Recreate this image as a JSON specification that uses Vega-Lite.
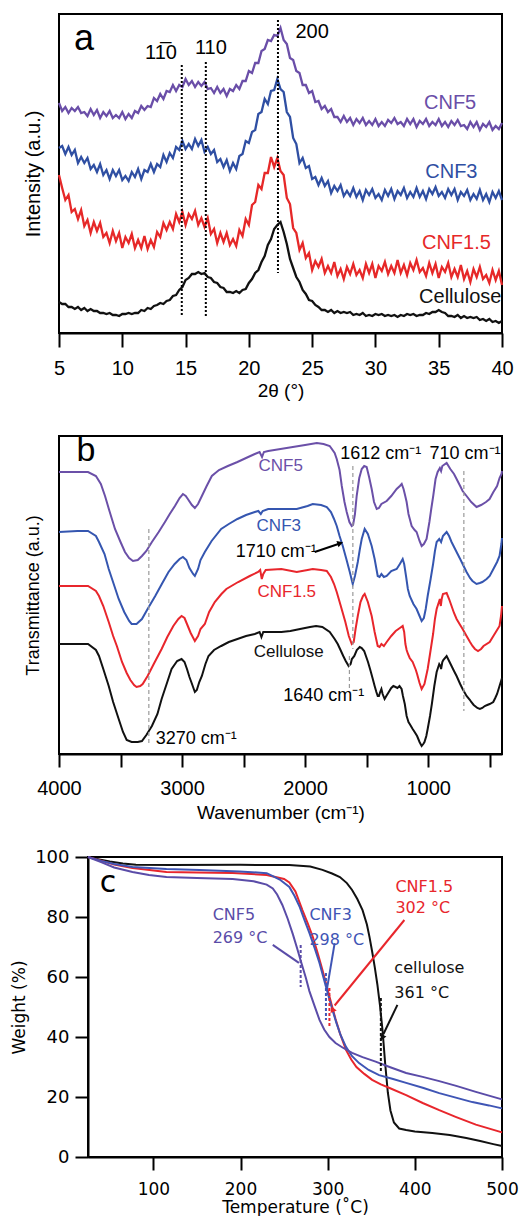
{
  "$schema": "https://vega.github.io/schema/vega-lite/v6.json",
  "background": "white",
  "padding": {"left": 9, "top": 13, "right": 0, "bottom": 0},
  "spacing": 103,
  "bounds": "flush",
  "resolve": {"scale": {"color": "independent"}},
  "config": {
    "view": {"stroke": "black", "strokeWidth": 2},
    "axis": {"grid": false, "domainColor": "black", "domainWidth": 2, "tickColor": "black", "tickWidth": 2, "labelColor": "black", "titleColor": "black", "titleFontWeight": "normal", "labelFontWeight": "normal", "labelFlush": false, "labelOverlap": false},
    "text": {"font": "Liberation Sans"}
  },
  "datasets": {
    "xrd": [
      {"t":5,"p":230,"b":185,"r":158,"k":31},{"t":5.25,"p":222,"b":187,"r":145,"k":29},{"t":5.5,"p":226,"b":179,"r":133,"k":29},{"t":5.75,"p":220,"b":186,"r":138,"k":26},
      {"t":6,"p":225,"b":178,"r":121,"k":26},{"t":6.25,"p":222,"b":183,"r":124,"k":24},{"t":6.5,"p":226,"b":170,"r":114,"k":26},{"t":6.75,"p":220,"b":176,"r":123,"k":23},
      {"t":7,"p":221,"b":170,"r":107,"k":25},{"t":7.25,"p":217,"b":175,"r":113,"k":22},{"t":7.5,"p":224,"b":164,"r":100,"k":24},{"t":7.75,"p":218,"b":168,"r":111,"k":22},
      {"t":8,"p":223,"b":161,"r":102,"k":22},{"t":8.25,"p":215,"b":169,"r":110,"k":20},{"t":8.5,"p":221,"b":158,"r":96,"k":20},{"t":8.75,"p":217,"b":163,"r":100,"k":19},
      {"t":9,"p":222,"b":154,"r":90,"k":20},{"t":9.25,"p":215,"b":163,"r":102,"k":18},{"t":9.5,"p":218,"b":157,"r":92,"k":18},{"t":9.75,"p":215,"b":163,"r":100,"k":17},
      {"t":10,"p":221,"b":153,"r":85,"k":19},{"t":10.25,"p":214,"b":157,"r":96,"k":19},{"t":10.5,"p":219,"b":152,"r":90,"k":20},{"t":10.75,"p":215,"b":161,"r":99,"k":19},
      {"t":11,"p":222,"b":156,"r":85,"k":20},{"t":11.25,"p":220,"b":164,"r":93,"k":20},{"t":11.5,"p":227,"b":154,"r":85,"k":23},{"t":11.75,"p":223,"b":163,"r":97,"k":22},
      {"t":12,"p":227,"b":161,"r":84,"k":25},{"t":12.25,"p":226,"b":169,"r":93,"k":24},{"t":12.5,"p":235,"b":161,"r":86,"k":27},{"t":12.75,"p":232,"b":169,"r":101,"k":28},
      {"t":13,"p":239,"b":166,"r":96,"k":30},{"t":13.25,"p":234,"b":178,"r":110,"k":29},{"t":13.5,"p":242,"b":171,"r":103,"k":32},{"t":13.75,"p":241,"b":180,"r":111,"k":33},
      {"t":14,"p":248,"b":175,"r":104,"k":37},{"t":14.25,"p":242,"b":186,"r":119,"k":38},{"t":14.5,"p":248,"b":183,"r":111,"k":43},{"t":14.75,"p":246,"b":192,"r":121,"k":46},
      {"t":15,"p":254,"b":184,"r":108,"k":53},{"t":15.25,"p":248,"b":189,"r":119,"k":55},{"t":15.5,"p":252,"b":184,"r":114,"k":59},{"t":15.75,"p":246,"b":194,"r":122,"k":59},
      {"t":16,"p":251,"b":187,"r":108,"k":61},{"t":16.25,"p":247,"b":193,"r":115,"k":59},{"t":16.5,"p":251,"b":181,"r":106,"k":60},{"t":16.75,"p":244,"b":186,"r":115,"k":56},
      {"t":17,"p":245,"b":179,"r":99,"k":55},{"t":17.25,"p":240,"b":183,"r":104,"k":51},{"t":17.5,"p":246,"b":171,"r":90,"k":50},{"t":17.75,"p":240,"b":174,"r":100,"k":46},
      {"t":18,"p":244,"b":166,"r":91,"k":45},{"t":18.25,"p":237,"b":173,"r":100,"k":41},{"t":18.5,"p":244,"b":162,"r":88,"k":41},{"t":18.75,"p":242,"b":170,"r":94,"k":40},
      {"t":19,"p":248,"b":164,"r":87,"k":42},{"t":19.25,"p":244,"b":177,"r":103,"k":40},{"t":19.5,"p":252,"b":179,"r":97,"k":43},{"t":19.75,"p":252,"b":192,"r":114,"k":44},
      {"t":20,"p":262,"b":190,"r":108,"k":50},{"t":20.25,"p":260,"b":201,"r":128,"k":54},{"t":20.5,"p":270,"b":203,"r":131,"k":60},{"t":20.75,"p":270,"b":219,"r":148,"k":63},
      {"t":21,"p":282,"b":221,"r":144,"k":71},{"t":21.25,"p":284,"b":234,"r":160,"k":77},{"t":21.5,"p":293,"b":229,"r":160,"k":88},{"t":21.75,"p":292,"b":242,"r":176,"k":94},
      {"t":22,"p":298,"b":243,"r":166,"k":104},{"t":22.25,"p":297,"b":254,"r":175,"k":108},{"t":22.5,"p":305,"b":244,"r":162,"k":111},{"t":22.75,"p":293,"b":241,"r":158,"k":101},
      {"t":23,"p":289,"b":221,"r":135,"k":89},{"t":23.25,"p":275,"b":216,"r":129,"k":74},{"t":23.5,"p":273,"b":195,"r":105,"k":65},{"t":23.75,"p":262,"b":189,"r":100,"k":56},
      {"t":24,"p":260,"b":170,"r":83,"k":51},{"t":24.25,"p":248,"b":175,"r":90,"k":43},{"t":24.5,"p":248,"b":165,"r":75,"k":39},{"t":24.75,"p":240,"b":167,"r":80,"k":33},
      {"t":25,"p":242,"b":154,"r":63,"k":32},{"t":25.25,"p":231,"b":156,"r":72,"k":28},{"t":25.5,"p":232,"b":148,"r":66,"k":26},{"t":25.75,"p":224,"b":155,"r":74,"k":23},
      {"t":26,"p":227,"b":147,"r":60,"k":23},{"t":26.25,"p":221,"b":152,"r":67,"k":21},{"t":26.5,"p":224,"b":140,"r":60,"k":23},{"t":26.75,"p":216,"b":147,"r":71,"k":20},
      {"t":27,"p":216,"b":142,"r":57,"k":22},{"t":27.25,"p":211,"b":148,"r":64,"k":20},{"t":27.5,"p":217,"b":137,"r":54,"k":21},{"t":27.75,"p":211,"b":142,"r":66,"k":20},
      {"t":28,"p":215,"b":137,"r":59,"k":21},{"t":28.25,"p":208,"b":145,"r":69,"k":18},{"t":28.5,"p":214,"b":136,"r":58,"k":19},{"t":28.75,"p":210,"b":142,"r":63,"k":18},
      {"t":29,"p":215,"b":133,"r":55,"k":20},{"t":29.25,"p":208,"b":143,"r":69,"k":17},{"t":29.5,"p":212,"b":138,"r":60,"k":18},{"t":29.75,"p":208,"b":144,"r":69,"k":17},
      {"t":30,"p":214,"b":135,"r":55,"k":19},{"t":30.25,"p":207,"b":139,"r":67,"k":18},{"t":30.5,"p":211,"b":133,"r":62,"k":19},{"t":30.75,"p":207,"b":143,"r":71,"k":17},
      {"t":31,"p":213,"b":137,"r":59,"k":18},{"t":31.25,"p":210,"b":144,"r":67,"k":17},{"t":31.5,"p":215,"b":134,"r":60,"k":18},{"t":31.75,"p":209,"b":142,"r":73,"k":16},
      {"t":32,"p":211,"b":138,"r":60,"k":18},{"t":32.25,"p":207,"b":145,"r":68,"k":17},{"t":32.5,"p":214,"b":135,"r":58,"k":19},{"t":32.75,"p":209,"b":141,"r":70,"k":18},
      {"t":33,"p":214,"b":136,"r":63,"k":19},{"t":33.25,"p":206,"b":145,"r":73,"k":17},{"t":33.5,"p":212,"b":136,"r":61,"k":18},{"t":33.75,"p":209,"b":142,"r":65,"k":18},
      {"t":34,"p":214,"b":134,"r":57,"k":20},{"t":34.25,"p":207,"b":144,"r":70,"k":19},{"t":34.5,"p":211,"b":139,"r":60,"k":21},{"t":34.75,"p":208,"b":146,"r":69,"k":21},
      {"t":35,"p":214,"b":137,"r":55,"k":23},{"t":35.25,"p":207,"b":141,"r":66,"k":21},{"t":35.5,"p":211,"b":135,"r":61,"k":20},{"t":35.75,"p":206,"b":144,"r":70,"k":17},
      {"t":36,"p":212,"b":138,"r":56,"k":17},{"t":36.25,"p":208,"b":144,"r":64,"k":16},{"t":36.5,"p":213,"b":133,"r":56,"k":18},{"t":36.75,"p":207,"b":141,"r":68,"k":15},
      {"t":37,"p":208,"b":137,"r":54,"k":17},{"t":37.25,"p":204,"b":143,"r":62,"k":15},{"t":37.5,"p":211,"b":133,"r":51,"k":16},{"t":37.75,"p":206,"b":139,"r":64,"k":15},
      {"t":38,"p":211,"b":134,"r":56,"k":16},{"t":38.25,"p":203,"b":143,"r":66,"k":13},{"t":38.5,"p":209,"b":133,"r":54,"k":14},{"t":38.75,"p":206,"b":139,"r":58,"k":12},
      {"t":39,"p":211,"b":131,"r":50,"k":14},{"t":39.25,"p":203,"b":141,"r":63,"k":11},{"t":39.5,"p":207,"b":135,"r":53,"k":12},{"t":39.75,"p":204,"b":142,"r":62,"k":10},
      {"t":40,"p":210,"b":133,"r":48,"k":12}
    ],
    "ftir": [
      {"s":"p","w":4000,"v":282},{"s":"p","w":3850,"v":282},{"s":"p","w":3764,"v":282},{"s":"p","w":3700,"v":278},{"s":"p","w":3660,"v":270},{"s":"p","w":3626,"v":258},{"s":"p","w":3590,"v":243},{"s":"p","w":3545,"v":225},{"s":"p","w":3500,"v":212},{"s":"p","w":3464,"v":202},{"s":"p","w":3430,"v":196},{"s":"p","w":3399,"v":193},{"s":"p","w":3360,"v":194},{"s":"p","w":3326,"v":198},{"s":"p","w":3290,"v":203},{"s":"p","w":3245,"v":212},{"s":"p","w":3190,"v":222},{"s":"p","w":3139,"v":232},{"s":"p","w":3100,"v":240},{"s":"p","w":3058,"v":248},{"s":"p","w":3020,"v":256},{"s":"p","w":2993,"v":260},{"s":"p","w":2970,"v":258},{"s":"p","w":2953,"v":255},{"s":"p","w":2920,"v":249},{"s":"p","w":2896,"v":246},{"s":"p","w":2870,"v":250},{"s":"p","w":2839,"v":258},{"s":"p","w":2800,"v":268},{"s":"p","w":2758,"v":278},{"s":"p","w":2700,"v":284},{"s":"p","w":2628,"v":288},{"s":"p","w":2550,"v":292},{"s":"p","w":2480,"v":296},{"s":"p","w":2409,"v":300},{"s":"p","w":2370,"v":302},{"s":"p","w":2350,"v":297},{"s":"p","w":2335,"v":302},{"s":"p","w":2300,"v":303},{"s":"p","w":2200,"v":305},{"s":"p","w":2100,"v":307},{"s":"p","w":2000,"v":309},{"s":"p","w":1905,"v":311},{"s":"p","w":1850,"v":310},{"s":"p","w":1800,"v":308},{"s":"p","w":1760,"v":301},{"s":"p","w":1743,"v":295},{"s":"p","w":1720,"v":284},{"s":"p","w":1702,"v":268},{"s":"p","w":1680,"v":252},{"s":"p","w":1662,"v":242},{"s":"p","w":1640,"v":232},{"s":"p","w":1621,"v":228},{"s":"p","w":1610,"v":229},{"s":"p","w":1595,"v":240},{"s":"p","w":1581,"v":258},{"s":"p","w":1560,"v":276},{"s":"p","w":1540,"v":285},{"s":"p","w":1520,"v":288},{"s":"p","w":1500,"v":287},{"s":"p","w":1480,"v":277},{"s":"p","w":1459,"v":265},{"s":"p","w":1440,"v":252},{"s":"p","w":1418,"v":245},{"s":"p","w":1400,"v":246},{"s":"p","w":1380,"v":250},{"s":"p","w":1337,"v":253},{"s":"p","w":1300,"v":258},{"s":"p","w":1256,"v":265},{"s":"p","w":1230,"v":268},{"s":"p","w":1215,"v":270},{"s":"p","w":1200,"v":265},{"s":"p","w":1190,"v":260},{"s":"p","w":1175,"v":252},{"s":"p","w":1160,"v":240},{"s":"p","w":1134,"v":228},{"s":"p","w":1110,"v":224},{"s":"p","w":1094,"v":222},{"s":"p","w":1070,"v":213},{"s":"p","w":1053,"v":208},{"s":"p","w":1035,"v":210},{"s":"p","w":1013,"v":215},{"s":"p","w":990,"v":232},{"s":"p","w":975,"v":245},{"s":"p","w":959,"v":258},{"s":"p","w":940,"v":275},{"s":"p","w":923,"v":282},{"s":"p","w":905,"v":286},{"s":"p","w":895,"v":283},{"s":"p","w":885,"v":288},{"s":"p","w":850,"v":291},{"s":"p","w":820,"v":285},{"s":"p","w":790,"v":280},{"s":"p","w":769,"v":275},{"s":"p","w":740,"v":268},{"s":"p","w":720,"v":263},{"s":"p","w":688,"v":258},{"s":"p","w":650,"v":252},{"s":"p","w":607,"v":247},{"s":"p","w":570,"v":249},{"s":"p","w":530,"v":252},{"s":"p","w":501,"v":255},{"s":"p","w":470,"v":262},{"s":"p","w":440,"v":268},{"s":"p","w":420,"v":276},{"s":"p","w":404,"v":280},{"s":"p","w":400,"v":283},
      {"s":"b","w":4000,"v":222},{"s":"b","w":3850,"v":223},{"s":"b","w":3764,"v":223},{"s":"b","w":3700,"v":218},{"s":"b","w":3675,"v":212},{"s":"b","w":3630,"v":200},{"s":"b","w":3596,"v":185},{"s":"b","w":3550,"v":168},{"s":"b","w":3515,"v":155},{"s":"b","w":3470,"v":142},{"s":"b","w":3430,"v":133},{"s":"b","w":3410,"v":130},{"s":"b","w":3370,"v":130},{"s":"b","w":3326,"v":135},{"s":"b","w":3280,"v":145},{"s":"b","w":3218,"v":158},{"s":"b","w":3160,"v":171},{"s":"b","w":3110,"v":182},{"s":"b","w":3060,"v":190},{"s":"b","w":3020,"v":195},{"s":"b","w":2993,"v":197},{"s":"b","w":2965,"v":194},{"s":"b","w":2940,"v":186},{"s":"b","w":2910,"v":180},{"s":"b","w":2896,"v":178},{"s":"b","w":2870,"v":185},{"s":"b","w":2850,"v":194},{"s":"b","w":2815,"v":202},{"s":"b","w":2760,"v":213},{"s":"b","w":2682,"v":225},{"s":"b","w":2620,"v":230},{"s":"b","w":2550,"v":235},{"s":"b","w":2480,"v":239},{"s":"b","w":2409,"v":242},{"s":"b","w":2380,"v":243},{"s":"b","w":2360,"v":240},{"s":"b","w":2345,"v":243},{"s":"b","w":2300,"v":245},{"s":"b","w":2164,"v":245},{"s":"b","w":2068,"v":245},{"s":"b","w":1980,"v":248},{"s":"b","w":1938,"v":250},{"s":"b","w":1870,"v":249},{"s":"b","w":1824,"v":247},{"s":"b","w":1790,"v":242},{"s":"b","w":1765,"v":235},{"s":"b","w":1743,"v":228},{"s":"b","w":1720,"v":218},{"s":"b","w":1694,"v":208},{"s":"b","w":1665,"v":195},{"s":"b","w":1637,"v":182},{"s":"b","w":1613,"v":170},{"s":"b","w":1595,"v":178},{"s":"b","w":1572,"v":192},{"s":"b","w":1555,"v":205},{"s":"b","w":1540,"v":215},{"s":"b","w":1516,"v":225},{"s":"b","w":1490,"v":220},{"s":"b","w":1459,"v":208},{"s":"b","w":1435,"v":195},{"s":"b","w":1410,"v":178},{"s":"b","w":1395,"v":177},{"s":"b","w":1380,"v":180},{"s":"b","w":1360,"v":177},{"s":"b","w":1337,"v":178},{"s":"b","w":1300,"v":183},{"s":"b","w":1256,"v":185},{"s":"b","w":1230,"v":190},{"s":"b","w":1207,"v":195},{"s":"b","w":1195,"v":190},{"s":"b","w":1180,"v":178},{"s":"b","w":1165,"v":165},{"s":"b","w":1150,"v":158},{"s":"b","w":1120,"v":150},{"s":"b","w":1094,"v":145},{"s":"b","w":1070,"v":138},{"s":"b","w":1053,"v":133},{"s":"b","w":1035,"v":136},{"s":"b","w":1020,"v":145},{"s":"b","w":1004,"v":158},{"s":"b","w":980,"v":175},{"s":"b","w":960,"v":190},{"s":"b","w":945,"v":203},{"s":"b","w":931,"v":212},{"s":"b","w":910,"v":215},{"s":"b","w":895,"v":212},{"s":"b","w":880,"v":218},{"s":"b","w":850,"v":222},{"s":"b","w":830,"v":218},{"s":"b","w":810,"v":212},{"s":"b","w":769,"v":202},{"s":"b","w":740,"v":195},{"s":"b","w":720,"v":190},{"s":"b","w":688,"v":182},{"s":"b","w":660,"v":176},{"s":"b","w":640,"v":173},{"s":"b","w":607,"v":170},{"s":"b","w":580,"v":171},{"s":"b","w":560,"v":172},{"s":"b","w":525,"v":175},{"s":"b","w":500,"v":178},{"s":"b","w":470,"v":185},{"s":"b","w":440,"v":192},{"s":"b","w":420,"v":198},{"s":"b","w":405,"v":210},{"s":"b","w":400,"v":216},
      {"s":"r","w":4000,"v":168},{"s":"r","w":3850,"v":168},{"s":"r","w":3764,"v":168},{"s":"r","w":3700,"v":163},{"s":"r","w":3675,"v":158},{"s":"r","w":3640,"v":148},{"s":"r","w":3596,"v":132},{"s":"r","w":3560,"v":118},{"s":"r","w":3530,"v":108},{"s":"r","w":3488,"v":92},{"s":"r","w":3450,"v":81},{"s":"r","w":3420,"v":74},{"s":"r","w":3390,"v":69},{"s":"r","w":3370,"v":67},{"s":"r","w":3340,"v":68},{"s":"r","w":3320,"v":70},{"s":"r","w":3280,"v":78},{"s":"r","w":3230,"v":90},{"s":"r","w":3166,"v":105},{"s":"r","w":3120,"v":117},{"s":"r","w":3071,"v":128},{"s":"r","w":3030,"v":135},{"s":"r","w":3004,"v":138},{"s":"r","w":2980,"v":136},{"s":"r","w":2960,"v":130},{"s":"r","w":2930,"v":121},{"s":"r","w":2896,"v":113},{"s":"r","w":2870,"v":118},{"s":"r","w":2850,"v":125},{"s":"r","w":2815,"v":130},{"s":"r","w":2780,"v":142},{"s":"r","w":2734,"v":152},{"s":"r","w":2680,"v":160},{"s":"r","w":2640,"v":165},{"s":"r","w":2544,"v":172},{"s":"r","w":2450,"v":178},{"s":"r","w":2382,"v":182},{"s":"r","w":2365,"v":184},{"s":"r","w":2352,"v":175},{"s":"r","w":2340,"v":180},{"s":"r","w":2320,"v":184},{"s":"r","w":2193,"v":185},{"s":"r","w":2068,"v":182},{"s":"r","w":1980,"v":184},{"s":"r","w":1938,"v":185},{"s":"r","w":1870,"v":184},{"s":"r","w":1824,"v":183},{"s":"r","w":1790,"v":177},{"s":"r","w":1765,"v":170},{"s":"r","w":1743,"v":162},{"s":"r","w":1710,"v":148},{"s":"r","w":1673,"v":132},{"s":"r","w":1645,"v":118},{"s":"r","w":1621,"v":110},{"s":"r","w":1605,"v":112},{"s":"r","w":1590,"v":125},{"s":"r","w":1572,"v":138},{"s":"r","w":1550,"v":152},{"s":"r","w":1530,"v":158},{"s":"r","w":1516,"v":160},{"s":"r","w":1490,"v":152},{"s":"r","w":1459,"v":138},{"s":"r","w":1435,"v":122},{"s":"r","w":1410,"v":108},{"s":"r","w":1395,"v":107},{"s":"r","w":1380,"v":110},{"s":"r","w":1360,"v":108},{"s":"r","w":1337,"v":112},{"s":"r","w":1300,"v":118},{"s":"r","w":1264,"v":123},{"s":"r","w":1230,"v":126},{"s":"r","w":1207,"v":128},{"s":"r","w":1195,"v":122},{"s":"r","w":1185,"v":110},{"s":"r","w":1175,"v":104},{"s":"r","w":1164,"v":100},{"s":"r","w":1150,"v":96},{"s":"r","w":1126,"v":92},{"s":"r","w":1100,"v":84},{"s":"r","w":1090,"v":80},{"s":"r","w":1070,"v":71},{"s":"r","w":1053,"v":65},{"s":"r","w":1030,"v":70},{"s":"r","w":1004,"v":85},{"s":"r","w":985,"v":100},{"s":"r","w":960,"v":120},{"s":"r","w":945,"v":135},{"s":"r","w":931,"v":145},{"s":"r","w":905,"v":155},{"s":"r","w":897,"v":148},{"s":"r","w":890,"v":155},{"s":"r","w":880,"v":160},{"s":"r","w":850,"v":161},{"s":"r","w":830,"v":155},{"s":"r","w":810,"v":148},{"s":"r","w":790,"v":141},{"s":"r","w":769,"v":135},{"s":"r","w":740,"v":129},{"s":"r","w":720,"v":125},{"s":"r","w":688,"v":118},{"s":"r","w":660,"v":112},{"s":"r","w":640,"v":108},{"s":"r","w":620,"v":105},{"s":"r","w":595,"v":103},{"s":"r","w":570,"v":105},{"s":"r","w":550,"v":108},{"s":"r","w":500,"v":112},{"s":"r","w":470,"v":118},{"s":"r","w":450,"v":122},{"s":"r","w":420,"v":128},{"s":"r","w":408,"v":138},{"s":"r","w":400,"v":148},
      {"s":"k","w":4000,"v":110},{"s":"k","w":3850,"v":110},{"s":"k","w":3764,"v":110},{"s":"k","w":3700,"v":104},{"s":"k","w":3675,"v":98},{"s":"k","w":3640,"v":85},{"s":"k","w":3596,"v":68},{"s":"k","w":3560,"v":52},{"s":"k","w":3515,"v":35},{"s":"k","w":3480,"v":22},{"s":"k","w":3450,"v":14},{"s":"k","w":3410,"v":12},{"s":"k","w":3360,"v":12},{"s":"k","w":3326,"v":13},{"s":"k","w":3290,"v":19},{"s":"k","w":3245,"v":28},{"s":"k","w":3200,"v":40},{"s":"k","w":3166,"v":55},{"s":"k","w":3120,"v":72},{"s":"k","w":3085,"v":85},{"s":"k","w":3040,"v":93},{"s":"k","w":3004,"v":95},{"s":"k","w":2980,"v":92},{"s":"k","w":2960,"v":85},{"s":"k","w":2940,"v":77},{"s":"k","w":2925,"v":72},{"s":"k","w":2896,"v":62},{"s":"k","w":2880,"v":64},{"s":"k","w":2860,"v":72},{"s":"k","w":2839,"v":78},{"s":"k","w":2810,"v":90},{"s":"k","w":2785,"v":98},{"s":"k","w":2740,"v":104},{"s":"k","w":2682,"v":108},{"s":"k","w":2620,"v":112},{"s":"k","w":2550,"v":115},{"s":"k","w":2480,"v":118},{"s":"k","w":2409,"v":120},{"s":"k","w":2370,"v":122},{"s":"k","w":2355,"v":117},{"s":"k","w":2340,"v":122},{"s":"k","w":2300,"v":122},{"s":"k","w":2193,"v":122},{"s":"k","w":2120,"v":123},{"s":"k","w":2041,"v":125},{"s":"k","w":1960,"v":127},{"s":"k","w":1911,"v":128},{"s":"k","w":1860,"v":127},{"s":"k","w":1800,"v":122},{"s":"k","w":1760,"v":115},{"s":"k","w":1735,"v":110},{"s":"k","w":1716,"v":105},{"s":"k","w":1690,"v":98},{"s":"k","w":1670,"v":93},{"s":"k","w":1646,"v":88},{"s":"k","w":1630,"v":90},{"s":"k","w":1620,"v":95},{"s":"k","w":1600,"v":98},{"s":"k","w":1580,"v":104},{"s":"k","w":1556,"v":107},{"s":"k","w":1540,"v":106},{"s":"k","w":1520,"v":103},{"s":"k","w":1489,"v":92},{"s":"k","w":1470,"v":84},{"s":"k","w":1450,"v":75},{"s":"k","w":1435,"v":68},{"s":"k","w":1421,"v":62},{"s":"k","w":1410,"v":58},{"s":"k","w":1400,"v":58},{"s":"k","w":1390,"v":62},{"s":"k","w":1380,"v":65},{"s":"k","w":1370,"v":60},{"s":"k","w":1354,"v":55},{"s":"k","w":1340,"v":58},{"s":"k","w":1320,"v":62},{"s":"k","w":1300,"v":66},{"s":"k","w":1283,"v":68},{"s":"k","w":1265,"v":67},{"s":"k","w":1250,"v":66},{"s":"k","w":1233,"v":68},{"s":"k","w":1216,"v":65},{"s":"k","w":1205,"v":58},{"s":"k","w":1190,"v":50},{"s":"k","w":1180,"v":42},{"s":"k","w":1175,"v":38},{"s":"k","w":1165,"v":34},{"s":"k","w":1160,"v":32},{"s":"k","w":1150,"v":30},{"s":"k","w":1126,"v":25},{"s":"k","w":1110,"v":22},{"s":"k","w":1090,"v":18},{"s":"k","w":1070,"v":12},{"s":"k","w":1053,"v":8},{"s":"k","w":1040,"v":10},{"s":"k","w":1030,"v":12},{"s":"k","w":1015,"v":18},{"s":"k","w":1004,"v":25},{"s":"k","w":985,"v":38},{"s":"k","w":970,"v":50},{"s":"k","w":950,"v":68},{"s":"k","w":931,"v":82},{"s":"k","w":910,"v":90},{"s":"k","w":900,"v":88},{"s":"k","w":895,"v":85},{"s":"k","w":885,"v":92},{"s":"k","w":877,"v":94},{"s":"k","w":850,"v":98},{"s":"k","w":830,"v":93},{"s":"k","w":810,"v":88},{"s":"k","w":790,"v":83},{"s":"k","w":769,"v":78},{"s":"k","w":740,"v":70},{"s":"k","w":720,"v":65},{"s":"k","w":688,"v":58},{"s":"k","w":660,"v":54},{"s":"k","w":650,"v":52},{"s":"k","w":630,"v":49},{"s":"k","w":620,"v":48},{"s":"k","w":600,"v":46},{"s":"k","w":580,"v":45},{"s":"k","w":560,"v":46},{"s":"k","w":540,"v":48},{"s":"k","w":520,"v":49},{"s":"k","w":500,"v":50},{"s":"k","w":471,"v":52},{"s":"k","w":455,"v":56},{"s":"k","w":440,"v":60},{"s":"k","w":420,"v":68},{"s":"k","w":400,"v":76}
    ],
    "tga": [
      {"s":"k","T":25,"v":100},{"s":"k","T":35,"v":99.3},{"s":"k","T":50,"v":98.5},{"s":"k","T":65,"v":97.8},{"s":"k","T":80,"v":97.4},{"s":"k","T":120,"v":97.3},{"s":"k","T":200,"v":97.4},{"s":"k","T":256,"v":97.3},{"s":"k","T":280,"v":96.8},{"s":"k","T":294,"v":95.7},{"s":"k","T":305,"v":94.5},{"s":"k","T":314,"v":93.3},{"s":"k","T":322,"v":91.3},{"s":"k","T":328,"v":89},{"s":"k","T":334,"v":86},{"s":"k","T":340,"v":82.3},{"s":"k","T":345,"v":77.5},{"s":"k","T":348,"v":73.3},{"s":"k","T":351,"v":68.5},{"s":"k","T":354,"v":63.3},{"s":"k","T":357,"v":57.5},{"s":"k","T":360,"v":50.5},{"s":"k","T":363,"v":42},{"s":"k","T":366,"v":31},{"s":"k","T":369,"v":21.5},{"s":"k","T":372,"v":15.5},{"s":"k","T":376,"v":11.5},{"s":"k","T":382,"v":9.5},{"s":"k","T":390,"v":9},{"s":"k","T":400,"v":8.5},{"s":"k","T":420,"v":8},{"s":"k","T":440,"v":7.3},{"s":"k","T":459,"v":6.3},{"s":"k","T":475,"v":5.3},{"s":"k","T":490,"v":4.3},{"s":"k","T":500,"v":3.7},
      {"s":"r","T":25,"v":100},{"s":"r","T":40,"v":98.8},{"s":"r","T":55,"v":97.5},{"s":"r","T":76,"v":96.3},{"s":"r","T":115,"v":95},{"s":"r","T":150,"v":94.8},{"s":"r","T":191,"v":94.7},{"s":"r","T":230,"v":94},{"s":"r","T":250,"v":92.7},{"s":"r","T":256,"v":91.5},{"s":"r","T":263,"v":88.5},{"s":"r","T":271,"v":82.3},{"s":"r","T":277,"v":78},{"s":"r","T":283,"v":73.3},{"s":"r","T":289,"v":67.5},{"s":"r","T":294,"v":62.3},{"s":"r","T":299,"v":56.8},{"s":"r","T":304,"v":51.3},{"s":"r","T":309,"v":46},{"s":"r","T":314,"v":41.3},{"s":"r","T":321,"v":35.7},{"s":"r","T":327,"v":32.5},{"s":"r","T":333,"v":30},{"s":"r","T":342,"v":27.7},{"s":"r","T":351,"v":25.7},{"s":"r","T":361,"v":24.2},{"s":"r","T":371,"v":23},{"s":"r","T":390,"v":20.6},{"s":"r","T":409,"v":18},{"s":"r","T":428,"v":15.6},{"s":"r","T":447.5,"v":13.3},{"s":"r","T":470,"v":10.8},{"s":"r","T":500,"v":8.2},
      {"s":"b","T":25,"v":100},{"s":"b","T":40,"v":98.7},{"s":"b","T":55,"v":97.7},{"s":"b","T":76,"v":96.7},{"s":"b","T":115,"v":96},{"s":"b","T":153,"v":95.7},{"s":"b","T":199,"v":95.2},{"s":"b","T":230,"v":94.6},{"s":"b","T":237,"v":93.6},{"s":"b","T":245,"v":92.5},{"s":"b","T":256,"v":90},{"s":"b","T":262,"v":87},{"s":"b","T":268,"v":83.3},{"s":"b","T":273,"v":79.3},{"s":"b","T":279,"v":74.7},{"s":"b","T":285,"v":69.7},{"s":"b","T":290.6,"v":64.7},{"s":"b","T":295,"v":60},{"s":"b","T":300,"v":54.7},{"s":"b","T":305,"v":49.5},{"s":"b","T":310,"v":44.7},{"s":"b","T":315,"v":40.5},{"s":"b","T":321,"v":36.7},{"s":"b","T":328,"v":33.6},{"s":"b","T":336,"v":31.3},{"s":"b","T":347,"v":29},{"s":"b","T":359,"v":27.3},{"s":"b","T":375,"v":26},{"s":"b","T":390,"v":24.7},{"s":"b","T":410,"v":23},{"s":"b","T":428,"v":21.3},{"s":"b","T":447,"v":19.8},{"s":"b","T":466,"v":18.3},{"s":"b","T":485,"v":17.2},{"s":"b","T":500,"v":16.2},
      {"s":"p","T":25,"v":100},{"s":"p","T":40,"v":98.3},{"s":"p","T":55,"v":96.5},{"s":"p","T":76,"v":95},{"s":"p","T":95,"v":94},{"s":"p","T":115,"v":93.3},{"s":"p","T":150,"v":93},{"s":"p","T":191,"v":92.7},{"s":"p","T":215,"v":91.9},{"s":"p","T":230,"v":90.8},{"s":"p","T":237,"v":89.5},{"s":"p","T":242,"v":87.5},{"s":"p","T":248,"v":84},{"s":"p","T":254,"v":79.5},{"s":"p","T":260,"v":74.3},{"s":"p","T":265,"v":69.5},{"s":"p","T":270,"v":64.5},{"s":"p","T":275,"v":59.7},{"s":"p","T":279,"v":55.3},{"s":"p","T":285,"v":50.3},{"s":"p","T":290.6,"v":45.7},{"s":"p","T":296,"v":42.5},{"s":"p","T":302,"v":40},{"s":"p","T":309,"v":38},{"s":"p","T":317,"v":36.5},{"s":"p","T":328,"v":34.7},{"s":"p","T":340,"v":33.3},{"s":"p","T":355,"v":31.8},{"s":"p","T":371,"v":30},{"s":"p","T":390,"v":28},{"s":"p","T":409,"v":26.7},{"s":"p","T":428,"v":25.3},{"s":"p","T":447.5,"v":23.7},{"s":"p","T":470,"v":21.7},{"s":"p","T":500,"v":19.2}
    ]
  },
  "vconcat": [
    {
      "width": 443,
      "height": 319,
      "encoding": {
        "x": {"field": "t", "type": "quantitative", "scale": {"domain": [5, 40], "nice": false, "zero": false},
          "axis": {"title": "2θ (°)", "values": [5, 10, 15, 20, 25, 30, 35, 40], "format": "d", "tickSize": 14, "labelPadding": 11, "labelFont": "Liberation Sans", "labelFontSize": 20, "titleFont": "Liberation Sans", "titleFontSize": 19, "titlePadding": 3}},
        "y": {"field": "v", "type": "quantitative", "scale": {"domain": [0, 319], "nice": false, "zero": false},
          "axis": {"title": "Intensity (a.u.)", "ticks": false, "labels": false, "domain": false, "minExtent": 0, "maxExtent": 0, "titleFont": "Liberation Sans", "titleFontSize": 20, "titlePadding": 16}}
      },
      "layer": [
        {
          "data": {"name": "xrd"},
          "transform": [{"fold": ["p", "b", "r", "k"], "as": ["s", "v"]}],
          "mark": {"type": "line", "strokeWidth": 2.3},
          "encoding": {"color": {"field": "s", "type": "nominal", "scale": {"domain": ["p", "b", "r", "k"], "range": ["#6a4ea8", "#2f4fa3", "#e62828", "#111111"]}, "legend": null}}
        },
        {
          "data": {"values": [{"t": 14.7, "v": 268, "v2": 17}, {"t": 16.6, "v": 271, "v2": 17}, {"t": 22.3, "v": 313, "v2": 60}]},
          "mark": {"type": "rule", "color": "black", "strokeWidth": 2, "strokeDash": [2, 2]},
          "encoding": {"y2": {"field": "v2"}}
        },
        {
          "data": {"values": [{"t": 13.06, "v": 280, "label": "11\u03050"}, {"t": 17.0, "v": 285, "label": "110"}, {"t": 25.0, "v": 301, "label": "200"}]},
          "mark": {"type": "text", "fontSize": 20, "color": "black"},
          "encoding": {"text": {"field": "label"}}
        },
        {
          "data": {"values": [{"s": "p", "t": 35.9, "v": 230, "label": "CNF5"}, {"s": "b", "t": 36.0, "v": 161, "label": "CNF3"}, {"s": "r", "t": 36.4, "v": 90, "label": "CNF1.5"}, {"s": "k", "t": 36.7, "v": 36, "label": "Cellulose"}]},
          "mark": {"type": "text", "fontSize": 20},
          "encoding": {"text": {"field": "label"}, "color": {"field": "s", "type": "nominal", "legend": null}}
        },
        {
          "data": {"values": [{"t": 6.98, "v": 294, "label": "a"}]},
          "mark": {"type": "text", "fontSize": 36, "color": "black"},
          "encoding": {"text": {"field": "label"}}
        }
      ]
    },
    {
      "width": 443,
      "height": 318,
      "encoding": {
        "x": {"field": "w", "type": "quantitative", "scale": {"domain": [400, 4000], "reverse": true, "nice": false, "zero": false},
          "axis": {"title": "Wavenumber (cm⁻¹)", "values": [4000, 3500, 3000, 2500, 2000, 1500, 1000, 500], "format": "d", "labelExpr": "datum.value % 1000 == 0 ? datum.label : ''", "tickSize": 13, "labelPadding": 11, "labelFont": "Liberation Sans", "labelFontSize": 20, "titleFont": "Liberation Sans", "titleFontSize": 19, "titlePadding": 5}},
        "y": {"field": "v", "type": "quantitative", "scale": {"domain": [0, 318], "nice": false, "zero": false},
          "axis": {"title": "Transmittance (a.u.)", "ticks": false, "labels": false, "domain": false, "minExtent": 0, "maxExtent": 0, "titleFont": "Liberation Sans", "titleFontSize": 18, "titlePadding": 17}}
      },
      "layer": [
        {
          "data": {"name": "ftir"},
          "mark": {"type": "line", "strokeWidth": 2},
          "encoding": {"color": {"field": "s", "type": "nominal", "scale": {"domain": ["p", "b", "r", "k"], "range": ["#6b50a8", "#3556b0", "#e8262c", "#111111"]}, "legend": null}}
        },
        {
          "data": {"values": [{"w": 3270, "v": 225, "v2": 10}, {"w": 1612, "v": 288, "v2": 105}, {"w": 1640, "v": 98, "v2": 65}, {"w": 710, "v": 283, "v2": 43}]},
          "mark": {"type": "rule", "color": "#9a9a9a", "strokeWidth": 1.2, "strokeDash": [4, 3]},
          "encoding": {"y2": {"field": "v2"}}
        },
        {
          "data": {"values": [{"w": 1385, "v": 300, "label": "1612 cm⁻¹"}, {"w": 700, "v": 300, "label": "710 cm⁻¹"}, {"w": 2234, "v": 202, "label": "1710 cm⁻¹"}, {"w": 1849, "v": 58, "label": "1640 cm⁻¹"}, {"w": 2884, "v": 15, "label": "3270 cm⁻¹"}]},
          "mark": {"type": "text", "fontSize": 18, "color": "black"},
          "encoding": {"text": {"field": "label"}}
        },
        {
          "data": {"values": [{"s": "p", "w": 2198, "v": 288, "label": "CNF5"}, {"s": "b", "w": 2214, "v": 228, "label": "CNF3"}, {"s": "r", "w": 2149, "v": 162, "label": "CNF1.5"}, {"s": "k", "w": 2133, "v": 102, "label": "Cellulose"}]},
          "mark": {"type": "text", "fontSize": 17},
          "encoding": {"text": {"field": "label"}, "color": {"field": "s", "type": "nominal", "legend": null}}
        },
        {
          "data": {"values": [{"w": 1922, "w2": 1730, "v": 202, "v2": 210}]},
          "mark": {"type": "rule", "color": "black", "strokeWidth": 2},
          "encoding": {"x2": {"field": "w2"}, "y2": {"field": "v2"}}
        },
        {
          "data": {"values": [{"w": 1722, "v": 210.5}]},
          "mark": {"type": "point", "shape": "triangle", "filled": true, "size": 45, "angle": 72, "color": "black", "opacity": 1},
          "encoding": {}
        },
        {
          "data": {"values": [{"w": 3781, "v": 303, "label": "b"}]},
          "mark": {"type": "text", "fontSize": 34, "color": "black"},
          "encoding": {"text": {"field": "label"}}
        }
      ]
    },
    {
      "hconcat": [
        {
          "width": 1,
          "height": 1,
          "view": {"stroke": null},
          "data": {"values": [{}]},
          "mark": {"type": "point", "opacity": 0},
          "encoding": {}
        },
        {
          "width": 414,
          "height": 300,
          "encoding": {
            "x": {"field": "T", "type": "quantitative", "scale": {"domain": [25, 500], "nice": false, "zero": false},
              "axis": {"title": "Temperature (˚C)", "values": [100, 200, 300, 400, 500], "format": "d", "tickSize": 13, "labelPadding": 11, "labelFont": "DejaVu Sans", "labelFontSize": 17, "titleFont": "DejaVu Sans", "titleFontSize": 17, "titlePadding": 2}},
            "y": {"field": "v", "type": "quantitative", "scale": {"domain": [0, 100], "nice": false, "zero": false},
              "axis": {"title": "Weight (%)", "values": [0, 20, 40, 60, 80, 100], "format": "d", "tickSize": 13, "labelPadding": 6, "labelFont": "DejaVu Sans", "labelFontSize": 18, "titleFont": "DejaVu Sans", "titleFontSize": 17, "titlePadding": 6, "minExtent": 0}}
          },
          "layer": [
            {
              "data": {"name": "tga"},
              "mark": {"type": "line", "strokeWidth": 2},
              "encoding": {"color": {"field": "s", "type": "nominal", "scale": {"domain": ["p", "b", "r", "k"], "range": ["#5a4ca8", "#3f55b5", "#e8262c", "#111111"]}, "legend": null}}
            },
            {
              "data": {"values": [{"s": "p", "T": 269, "v": 70.7, "v2": 56.7}, {"s": "b", "T": 298, "v": 61.3, "v2": 45.7}, {"s": "r", "T": 302, "v": 56.3, "v2": 43.3}, {"s": "k", "T": 361, "v": 53, "v2": 28}]},
              "mark": {"type": "rule", "strokeWidth": 2, "strokeDash": [3, 2]},
              "encoding": {"y2": {"field": "v2"}, "color": {"field": "s", "type": "nominal", "legend": null}}
            },
            {
              "data": {"values": [{"s": "p", "T": 237, "T2": 267, "v": 70.7, "v2": 64.7}, {"s": "b", "T": 308, "T2": 299, "v": 71.3, "v2": 55.7}, {"s": "r", "T": 388, "T2": 308, "v": 79, "v2": 50.5}, {"s": "k", "T": 380, "T2": 364, "v": 50.7, "v2": 41}]},
              "mark": {"type": "rule", "strokeWidth": 2},
              "encoding": {"x2": {"field": "T2"}, "y2": {"field": "v2"}, "color": {"field": "s", "type": "nominal", "legend": null}}
            },
            {
              "data": {"values": [{"T": 306, "v": 49}]},
              "mark": {"type": "point", "shape": "triangle", "filled": true, "size": 45, "angle": 219, "color": "#e8262c", "opacity": 1},
              "encoding": {}
            },
            {
              "data": {"values": [{"T": 363, "v": 40}]},
              "mark": {"type": "point", "shape": "triangle", "filled": true, "size": 45, "angle": 204, "color": "#111111", "opacity": 1},
              "encoding": {}
            },
            {
              "data": {"values": [{"s": "p", "T": 168, "v": 80.7, "label": "CNF5"}, {"s": "p", "T": 168, "v": 73, "label": "269 °C"}, {"s": "b", "T": 279, "v": 80.7, "label": "CNF3"}, {"s": "b", "T": 279, "v": 72.3, "label": "298 °C"}, {"s": "r", "T": 377.7, "v": 90, "label": "CNF1.5"}, {"s": "r", "T": 377.7, "v": 83, "label": "302 °C"}, {"s": "k", "T": 376.5, "v": 63, "label": "cellulose"}, {"s": "k", "T": 376.5, "v": 54.7, "label": "361 °C"}]},
              "mark": {"type": "text", "fontSize": 16, "font": "DejaVu Sans", "align": "left"},
              "encoding": {"text": {"field": "label"}, "color": {"field": "s", "type": "nominal", "legend": null}}
            },
            {
              "data": {"values": [{"T": 47.9, "v": 91.5, "label": "c"}]},
              "mark": {"type": "text", "fontSize": 30, "font": "DejaVu Sans", "color": "black"},
              "encoding": {"text": {"field": "label"}}
            }
          ]
        }
      ],
      "spacing": 28,
      "bounds": "flush"
    }
  ]
}
